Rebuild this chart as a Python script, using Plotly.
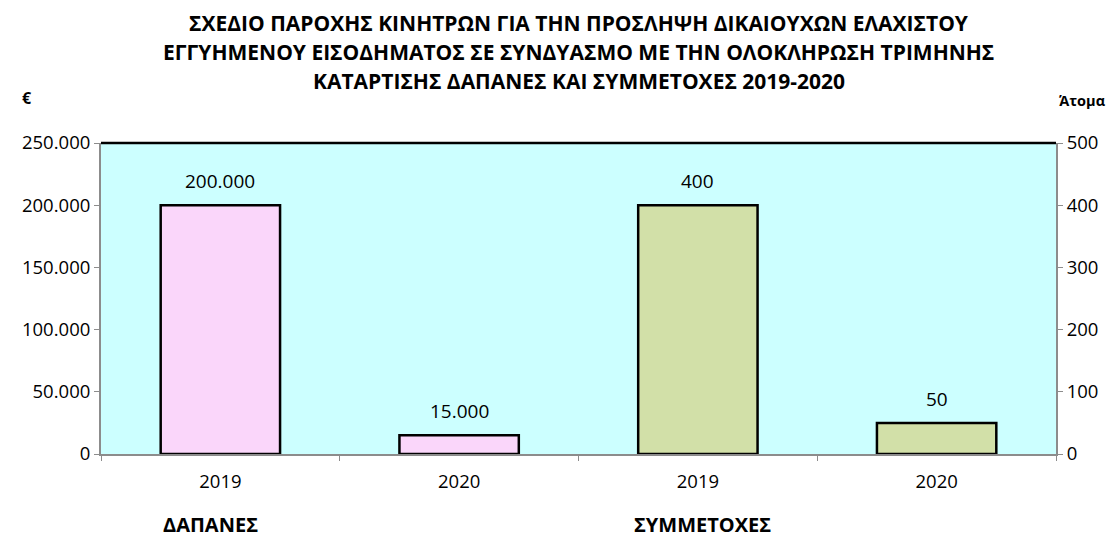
import plotly.graph_objects as go

# ---- data ----
groups = ["ΔΑΠΑΝΕΣ", "ΣΥΜΜΕΤΟΧΕΣ"]
years = ["2019", "2020"]
spending = [200000, 15000]        # € (left axis)
participants = [400, 50]          # Άτομα (right axis)
spend_labels = ["200.000", "15.000"]
part_labels = ["400", "50"]
tick_labels = years + years
title_lines = [
    "ΣΧΕΔΙΟ ΠΑΡΟΧΗΣ ΚΙΝΗΤΡΩΝ ΓΙΑ ΤΗΝ ΠΡΟΣΛΗΨΗ ΔΙΚΑΙΟΥΧΩΝ ΕΛΑΧΙΣΤΟΥ",
    "ΕΓΓΥΗΜΕΝΟΥ ΕΙΣΟΔΗΜΑΤΟΣ ΣΕ ΣΥΝΔΥΑΣΜΟ ΜΕ ΤΗΝ ΟΛΟΚΛΗΡΩΣΗ ΤΡΙΜΗΝΗΣ",
    "ΚΑΤΑΡΤΙΣΗΣ ΔΑΠΑΝΕΣ ΚΑΙ ΣΥΜΜΕΤΟΧΕΣ 2019-2020",
]

FONT = "Open Sans"
x_sp = [0, 1]
x_pa = [2, 3]

# figure geometry (page has an 8px body margin)
W, H = 1102, 532
M_L, M_R, M_T, M_B = 93, 52, 135, 86
PLOT_H = H - M_T - M_B


def paper_y(y_window):
    # window pixel -> paper y (plot bottom is at window y 454)
    return (454 - y_window) / PLOT_H


fig = go.Figure()
fig.add_trace(go.Bar(
    x=x_sp, y=spending, width=0.5, yaxis="y",
    marker=dict(color="#FAD6FA", line=dict(color="#000000", width=2.5)),
    showlegend=False, hoverinfo="y",
))
fig.add_trace(go.Bar(
    x=x_pa, y=participants, width=0.5, yaxis="y2",
    marker=dict(color="#D2E0A8", line=dict(color="#000000", width=2.5)),
    showlegend=False, hoverinfo="y",
))

annotations = []
lab_font = dict(family=FONT, size=19, color="#000")
for xv, yv, t in zip(x_sp, spending, spend_labels):
    annotations.append(dict(x=xv, y=yv, xref="x", yref="y", text=t, showarrow=False,
                            yanchor="bottom", yshift=9, font=lab_font))
for xv, yv, t in zip(x_pa, participants, part_labels):
    annotations.append(dict(x=xv, y=yv, xref="x", yref="y2", text=t, showarrow=False,
                            yanchor="bottom", yshift=9, font=lab_font))

for i, line in enumerate(title_lines):
    annotations.append(dict(x=0.5, xref="paper", y=paper_y(23 + 29 * i), yref="paper",
                            text="<b>" + line + "</b>", showarrow=False,
                            xanchor="center", yanchor="middle",
                            font=dict(family=FONT, size=21, color="#000")))

group_x = [0, 2]
group_shift = [-10, 5]
for gx, gs, g in zip(group_x, group_shift, groups):
    annotations.append(dict(x=gx, xref="x", xshift=gs, y=paper_y(524), yref="paper",
                            text="<b>" + g + "</b>", showarrow=False,
                            xanchor="center", yanchor="middle",
                            font=dict(family=FONT, size=20, color="#000")))

annotations.append(dict(x=0, xref="paper", xshift=-74, y=paper_y(98), yref="paper",
                        text="<b>€</b>", showarrow=False, xanchor="center", yanchor="middle",
                        font=dict(family=FONT, size=16, color="#000")))
annotations.append(dict(x=1, xref="paper", xshift=26, y=paper_y(100), yref="paper",
                        text="<b>Άτομα</b>", showarrow=False, xanchor="center", yanchor="middle",
                        font=dict(family=FONT, size=14.5, color="#000")))

axis_font = dict(family=FONT, size=18.5, color="#000")
fig.update_layout(
    width=W, height=H,
    margin=dict(l=M_L, r=M_R, t=M_T, b=M_B, pad=0),
    paper_bgcolor="white", plot_bgcolor="#CCFFFF",
    separators=",.",
    barmode="overlay",
    font=dict(family=FONT, size=16, color="#000"),
    xaxis=dict(
        range=[-0.5, 3.5], tickvals=[0, 1, 2, 3], ticktext=tick_labels,
        ticks="", showline=True, linecolor="#8C8C8C", linewidth=2,
        showgrid=False, zeroline=False, ticklabelstandoff=10,
        tickfont=axis_font,
        minor=dict(ticks="outside", tick0=-0.5, dtick=1, ticklen=5, tickcolor="#8C8C8C", showgrid=False),
        fixedrange=True,
    ),
    yaxis=dict(
        range=[0, 250000], dtick=50000, tickformat=",d",
        ticks="outside", ticklen=5, tickcolor="#8C8C8C",
        showline=True, linecolor="#8C8C8C", linewidth=2,
        showgrid=False, zeroline=False, tickfont=axis_font,
    ),
    yaxis2=dict(
        range=[0, 500], dtick=100, overlaying="y", side="right",
        ticks="outside", ticklen=5, tickcolor="#8C8C8C",
        showline=True, linecolor="#8C8C8C", linewidth=2,
        showgrid=False, zeroline=False, tickfont=axis_font,
    ),
    shapes=[dict(type="line", xref="paper", yref="paper", x0=0, x1=1, y0=1, y1=1,
                 line=dict(color="#000", width=2.5))],
    annotations=annotations,
)

fig.write_html("out.html")
